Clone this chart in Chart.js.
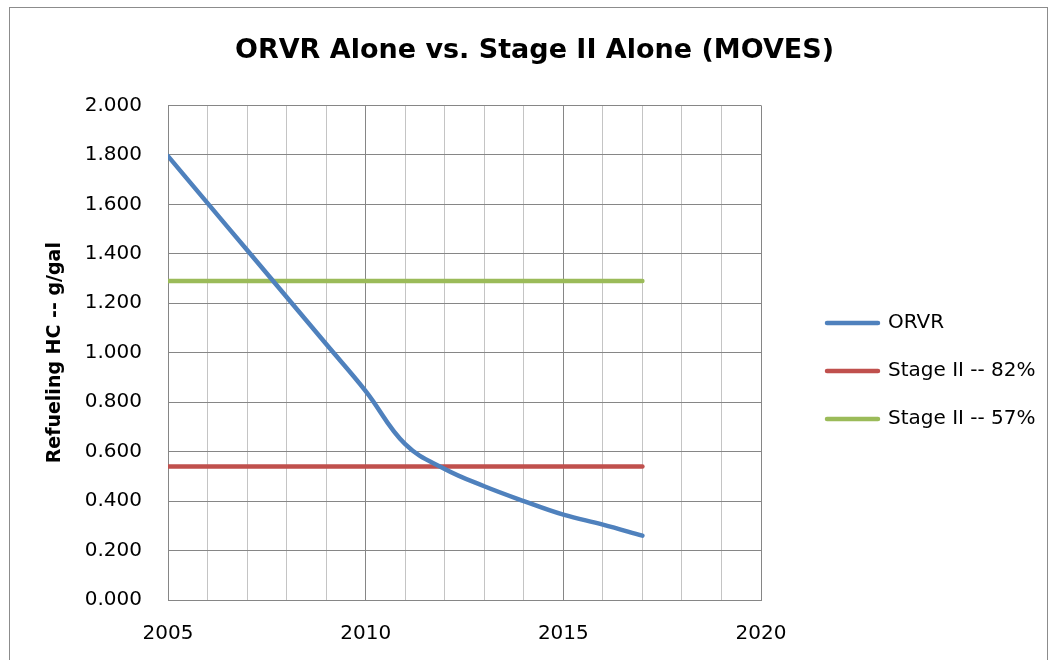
<!DOCTYPE html>
<html>
<head>
<meta charset="utf-8">
<script src="https://cdn.jsdelivr.net/npm/chart.js@4/dist/chart.umd.min.js"></script>
<style>
  body { margin: 0; background: #fff; }
  #moldura { position: absolute; left: 9px; top: 7px; width: 1037px; height: 700px; border: 1px solid #8c8c8c; }
  #grafico { position: absolute; left: 0; top: 0; }
</style>
</head>
<body>
<div id="moldura"></div>
<canvas id="grafico" width="1052" height="660"></canvas>
<script>
// dados (g/gal)
const anos = [2005, 2006, 2007, 2008, 2009, 2010, 2011, 2012, 2013, 2014, 2015, 2016, 2017]
const orvr = [1.795, 1.605, 1.415, 1.225, 1.035, 0.845, 0.630, 0.530, 0.460, 0.400, 0.345, 0.305, 0.260]
const stage82 = [0.54, 0.54, 0.54, 0.54, 0.54, 0.54, 0.54, 0.54, 0.54, 0.54, 0.54, 0.54, 0.54]
const stage57 = [1.29, 1.29, 1.29, 1.29, 1.29, 1.29, 1.29, 1.29, 1.29, 1.29, 1.29, 1.29, 1.29]
const nomes = ["ORVR", "Stage II -- 82%", "Stage II -- 57%"]
const cores = ["#4f81bd", "#c0504d", "#9bbb59"]
const ticksX = [2005, 2010, 2015, 2020]

const fonte = "'DejaVu Sans', sans-serif"

function pontos(valores) {
    return anos.map((ano, i) => ({ x: ano, y: valores[i] }))
}

function serie(nome, valores, cor, tensao) {
    return {
        label: nome,
        data: pontos(valores),
        borderColor: cor,
        backgroundColor: cor,
        borderWidth: 4.5,
        borderCapStyle: 'round',
        borderJoinStyle: 'round',
        pointRadius: 0,
        tension: tensao
    }
}

// legenda do lado direito, igual ao excel
const ajusteLegenda = {
    id: 'ajusteLegenda',
    beforeLayout(chart) {
        const lg = chart.legend
        if (lg && !lg._ajustada) {
            const fitOriginal = lg.fit
            lg.fit = function () {
                fitOriginal.call(this)
                this.width = 291
            }
            lg._ajustada = true
        }
    },
    afterLayout(chart) {
        chart.legend.left = 799
        chart.legend.top = 285
    }
}

new Chart(document.getElementById('grafico'), {
    type: 'line',
    data: {
        datasets: [
            serie(nomes[0], orvr, cores[0], 0.4),
            serie(nomes[1], stage82, cores[1], 0),
            serie(nomes[2], stage57, cores[2], 0)
        ]
    },
    options: {
        responsive: false,
        animation: false,
        layout: { padding: { left: 17 } },
        plugins: {
            title: {
                display: true,
                text: 'ORVR Alone vs. Stage II Alone (MOVES)',
                color: '#000',
                font: { family: fonte, size: 27, weight: 'bold' },
                padding: { top: 35, bottom: 38 }
            },
            legend: {
                position: 'right',
                align: 'start',
                labels: {
                    color: '#000',
                    font: { family: fonte, size: 20 },
                    boxWidth: 51,
                    boxHeight: 0,
                    padding: 28
                }
            },
            tooltip: { enabled: false }
        },
        scales: {
            x: {
                type: 'linear',
                min: 2005,
                max: 2020,
                afterFit: s => { s.height = 60 },
                ticks: {
                    stepSize: 1,
                    autoSkip: false,
                    maxRotation: 0,
                    padding: 22,
                    color: '#000',
                    font: { family: fonte, size: 20 },
                    callback: v => ticksX.includes(v) ? String(v) : ''
                },
                grid: {
                    drawTicks: false,
                    color: c => (c.tick && c.tick.value % 5 === 0) ? '#868686' : '#c4c4c4'
                },
                border: { color: '#868686' }
            },
            y: {
                min: 0,
                max: 2,
                afterFit: s => { s.width = 151 },
                title: {
                    display: true,
                    text: 'Refueling HC -- g/gal',
                    color: '#000',
                    font: { family: fonte, size: 19, weight: 'bold' },
                    padding: { top: 27 }
                },
                ticks: {
                    stepSize: 0.2,
                    padding: 26,
                    color: '#000',
                    font: { family: fonte, size: 20 },
                    callback: v => v.toFixed(3)
                },
                grid: { drawTicks: false, color: '#868686' },
                border: { color: '#868686' }
            }
        }
    },
    plugins: [ajusteLegenda]
})
</script>
</body>
</html>
